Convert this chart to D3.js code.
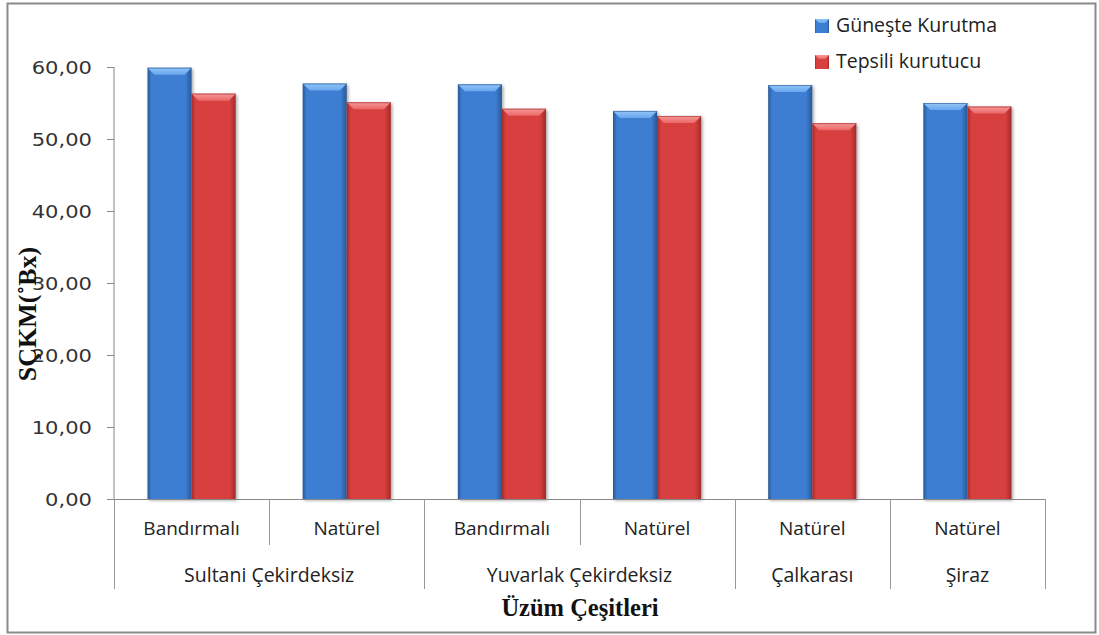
<!DOCTYPE html>
<html>
<head>
<meta charset="utf-8">
<script src="https://cdn.jsdelivr.net/npm/d3@7"></script>
<style>
  body { margin: 0; background: #fff; }
  svg { display: block; }
</style>
</head>
<body>
<svg id="chart"></svg>
<script>
// data
var varieties = ["Bandırmalı", "Natürel", "Bandırmalı", "Natürel", "Natürel", "Natürel"];
var groups = ["Sultani Çekirdeksiz", "Sultani Çekirdeksiz", "Yuvarlak Çekirdeksiz", "Yuvarlak Çekirdeksiz", "Çalkarası", "Şiraz"];
var seriesNames = ["Güneşte Kurutma", "Tepsili kurutucu"];
var gunesteValues = [59.9, 57.7, 57.6, 53.9, 57.5, 55.0];
var tepsiliValues = [56.3, 55.1, 54.2, 53.2, 52.2, 54.5];
var yTicks = [0, 10, 20, 30, 40, 50, 60];

var width = 1099, height = 635;
var plotLeft = 114, plotRight = 1045, plotTop = 67, plotBottom = 499;
var labelFont = 'Open Sans, Lato, sans-serif';
var titleFont = 'Liberation Serif, Times New Roman, serif';

var svg = d3.select('#chart')
    .attr('width', width)
    .attr('height', height);

var defs = svg.append('defs');

// colours for each series: edge, body, top bevel
var palette = [
    { dark: '#2a5896', mid: '#3c7ed2', light: '#68a6ee', top: '#92c6f8' },
    { dark: '#a32a2a', mid: '#d84040', light: '#ec6666', top: '#f59a9a' }
];

palette.forEach(function(p, i) {
    var g = defs.append('linearGradient').attr('id', 'body' + i)
        .attr('x1', 0).attr('x2', 1).attr('y1', 0).attr('y2', 0);
    g.append('stop').attr('offset', '0%').attr('stop-color', p.dark);
    g.append('stop').attr('offset', '9%').attr('stop-color', p.mid);
    g.append('stop').attr('offset', '86%').attr('stop-color', p.mid);
    g.append('stop').attr('offset', '100%').attr('stop-color', p.dark);

    var t = defs.append('linearGradient').attr('id', 'top' + i)
        .attr('x1', 0).attr('x2', 0).attr('y1', 0).attr('y2', 1);
    t.append('stop').attr('offset', '0%').attr('stop-color', p.top);
    t.append('stop').attr('offset', '100%').attr('stop-color', p.light);
});

var shadow = defs.append('filter').attr('id', 'shadow')
    .attr('x', '-20%').attr('y', '-5%').attr('width', '140%').attr('height', '115%');
shadow.append('feDropShadow')
    .attr('dx', 1.5).attr('dy', 1.5).attr('stdDeviation', 1.5)
    .attr('flood-color', '#000').attr('flood-opacity', 0.35);

// outer frame
svg.append('rect')
    .attr('x', 7.5).attr('y', 3.5)
    .attr('width', 1088).attr('height', 629)
    .attr('fill', '#fff')
    .attr('stroke', '#8a8a8a')
    .attr('stroke-width', 2);

var xScale = d3.scaleBand()
    .domain(d3.range(varieties.length))
    .range([plotLeft, plotRight]);

var xInner = d3.scaleBand()
    .domain([0, 1])
    .range([0, xScale.bandwidth()])
    .paddingOuter(0.76);

var yScale = d3.scaleLinear()
    .domain([0, 60])
    .range([plotBottom, plotTop]);

// y axis
var yAxis = d3.axisLeft(yScale)
    .tickValues(yTicks)
    .tickSize(7)
    .tickPadding(15)
    .tickFormat(function(d) { return d3.format('.2f')(d).replace('.', ','); });

var gy = svg.append('g')
    .attr('transform', 'translate(' + plotLeft + ',0)')
    .call(yAxis);
gy.select('.domain').attr('stroke', '#888').attr('d', 'M0,' + plotTop + 'V' + plotBottom);
gy.selectAll('.tick line').attr('stroke', '#888');
gy.selectAll('.tick text')
    .style('font-family', '"DejaVu Sans", Verdana, sans-serif')
    .style('font-size', '18px')
    .attr('fill', '#333')
    .attr('dy', '0.35em')
    .each(function() {
        // the reference digits are drawn wide, stretch them a little
        var w = this.getComputedTextLength();
        d3.select(this)
            .attr('textLength', w * 1.17)
            .attr('lengthAdjust', 'spacingAndGlyphs');
    });

// bars
var series = [gunesteValues, tepsiliValues];
series.forEach(function(values, s) {
    var barG = svg.append('g').attr('class', 'series' + s);
    var bars = barG.selectAll('g.bar')
        .data(values)
        .enter()
        .append('g')
        .attr('class', 'bar');

    bars.append('rect')
        .attr('x', function(d, i) { return xScale(i) + xInner(s); })
        .attr('y', function(d) { return yScale(d); })
        .attr('width', xInner.bandwidth())
        .attr('height', function(d) { return plotBottom - yScale(d); })
        .attr('fill', 'url(#body' + s + ')')
        .attr('filter', 'url(#shadow)');

    // bevelled top
    bars.append('polygon')
        .attr('points', function(d, i) {
            var x0 = xScale(i) + xInner(s), x1 = x0 + xInner.bandwidth();
            var y0 = yScale(d), b = 7;
            return [[x0, y0], [x1, y0], [x1 - b, y0 + b], [x0 + b, y0 + b]].join(' ');
        })
        .attr('fill', 'url(#top' + s + ')');

    bars.append('line')
        .attr('x1', function(d, i) { return xScale(i) + xInner(s); })
        .attr('x2', function(d, i) { return xScale(i) + xInner(s) + xInner.bandwidth(); })
        .attr('y1', function(d) { return yScale(d) + 0.5; })
        .attr('y2', function(d) { return yScale(d) + 0.5; })
        .attr('stroke', palette[s].dark)
        .attr('stroke-opacity', 0.6);
});

// x axis base line
svg.append('line')
    .attr('x1', plotLeft - 7).attr('x2', plotRight)
    .attr('y1', plotBottom + 0.5).attr('y2', plotBottom + 0.5)
    .attr('stroke', '#888');

// category separators and labels
var groupStarts = [];
groups.forEach(function(g, i) {
    if (i === 0 || groups[i - 1] !== g) groupStarts.push(i);
});

var catG = svg.append('g');
d3.range(varieties.length + 1).forEach(function(i) {
    var x = (i < varieties.length ? xScale(i) : plotRight);
    var isGroupEdge = i === varieties.length || groupStarts.indexOf(i) >= 0;
    catG.append('line')
        .attr('x1', Math.round(x) + 0.5).attr('x2', Math.round(x) + 0.5)
        .attr('y1', plotBottom).attr('y2', isGroupEdge ? 589 : 545)
        .attr('stroke', '#999');
});

catG.selectAll('text.variety')
    .data(varieties)
    .enter()
    .append('text')
    .attr('class', 'variety')
    .attr('x', function(d, i) { return xScale(i) + xScale.bandwidth() / 2; })
    .attr('y', 535)
    .attr('text-anchor', 'middle')
    .style('font-family', labelFont)
    .style('font-size', '19px')
    .attr('fill', '#222')
    .text(function(d) { return d; });

groupStarts.forEach(function(start, k) {
    var end = k + 1 < groupStarts.length ? groupStarts[k + 1] : varieties.length;
    var x0 = xScale(start), x1 = end < varieties.length ? xScale(end) : plotRight;
    catG.append('text')
        .attr('x', (x0 + x1) / 2)
        .attr('y', 582)
        .attr('text-anchor', 'middle')
        .style('font-family', labelFont)
        .style('font-size', '19.5px')
        .attr('fill', '#222')
        .text(groups[start]);
});

// axis titles
svg.append('text')
    .attr('transform', 'translate(36,314) rotate(-90)')
    .attr('text-anchor', 'middle')
    .style('font-family', titleFont)
    .style('font-weight', 'bold')
    .style('font-size', '26px')
    .attr('fill', '#111')
    .text('SÇKM(˚Bx)');

svg.append('text')
    .attr('x', 580)
    .attr('y', 616)
    .attr('text-anchor', 'middle')
    .style('font-family', titleFont)
    .style('font-weight', 'bold')
    .style('font-size', '24.5px')
    .attr('fill', '#111')
    .text('Üzüm Çeşitleri');

// legend
var legend = svg.append('g').attr('transform', 'translate(815,19)');
seriesNames.forEach(function(name, i) {
    var row = legend.append('g').attr('transform', 'translate(0,' + (i * 36) + ')');
    row.append('rect')
        .attr('width', 14).attr('height', 14)
        .attr('fill', 'url(#body' + i + ')');
    row.append('polygon')
        .attr('points', '0,0 14,0 10,4 4,4')
        .attr('fill', 'url(#top' + i + ')');
    row.append('text')
        .attr('x', 21)
        .attr('y', 13)
        .style('font-family', labelFont)
        .style('font-size', '19.5px')
        .attr('fill', '#222')
        .text(name);
});
</script>
</body>
</html>
